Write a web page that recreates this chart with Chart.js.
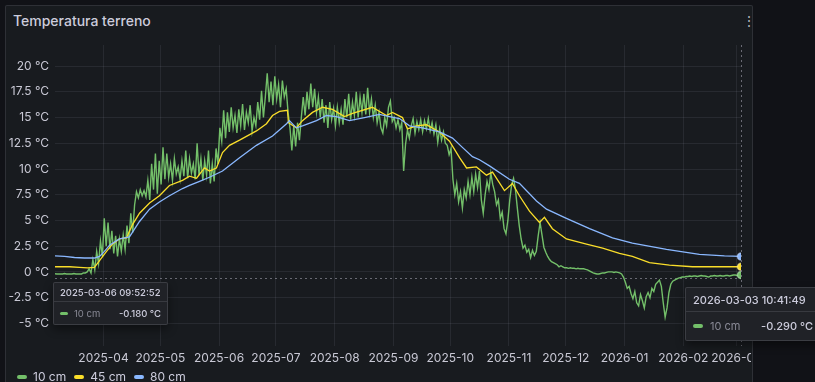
<!DOCTYPE html>
<html>
<head>
<meta charset="utf-8">
<script src="https://cdn.jsdelivr.net/npm/chart.js@4.4.1/dist/chart.umd.min.js"></script>
<style>
  html, body { margin: 0; padding: 0; background: #111217; }
  body { width: 815px; height: 382px; overflow: hidden; position: relative; font-family: Inter, "Noto Sans", sans-serif; color: #ccccdc; }
  #panel { position: absolute; left: 5px; top: 5px; width: 748px; height: 400px; box-sizing: border-box; background: #181b1f; border: 1px solid rgba(204,204,220,0.12); border-radius: 2px; }
  #title { position: absolute; left: 13px; top: 12px; font-size: 14px; font-weight: 500; color: #ccccdc; }
  #menu { position: absolute; left: 742px; top: 12px; font-size: 14px; color: #b0b0bc; }
  #plot { position: absolute; left: 0; top: 0; width: 751px; height: 382px; overflow: hidden; }
  #legend { position: absolute; left: 17px; top: 369px; font-size: 12px; display: flex; gap: 8px; color: #ccccdc; }
  .item { display: flex; align-items: center; }
  .sw { width: 10px; height: 4px; border-radius: 2px; margin-right: 6px; flex: none; }
  .tip { position: absolute; background: #202227; border: 1px solid rgba(204,204,220,0.16); border-radius: 2px; box-shadow: 0 4px 10px rgba(0,0,0,0.45); overflow: hidden; white-space: nowrap; }
  .tip .head { position: absolute; left: 0; right: 0; top: 0; border-bottom: 1px solid rgba(204,204,220,0.14); font-weight: 500; color: #ccccdc; }
  .tip .row { position: absolute; left: 0; right: 0; display: flex; align-items: center; }
  .tip .lab { color: rgba(204,204,220,0.6); }
  .tip .val { position: absolute; font-weight: 500; color: #ccccdc; }
</style>
</head>
<body>
<div id="panel"></div>
<div id="title">Temperatura terreno</div>
<div id="menu">⋮</div>
<div id="plot"><canvas id="chart" width="815" height="382"></canvas></div>

<div id="legend">
  <div class="item"><div class="sw" style="background:#73bf69"></div>10 cm</div>
  <div class="item"><div class="sw" style="background:#fade2a"></div>45 cm</div>
  <div class="item"><div class="sw" style="background:#8ab8ff"></div>80 cm</div>
</div>

<div class="tip" style="left:53px; top:282px; width:113px; height:41px;">
  <div class="head" style="height:18px; font-size:9.5px; line-height:19px; padding-left:6px;">2025-03-06 09:52:52</div>
  <div class="row" style="top:19px; height:22px; font-size:9.5px; padding-left:6px;">
    <div class="sw" style="background:#73bf69; width:8px; height:3px;"></div><span class="lab">10 cm</span>
    <span class="val" style="right:6px;">-0.180 °C</span>
  </div>
</div>

<div class="tip" style="left:685px; top:287px; width:150px; height:52px;">
  <div class="head" style="height:23px; font-size:11px; line-height:25px; padding-left:7px;">2026-03-03 10:41:49</div>
  <div class="row" style="top:24px; height:28px; font-size:11px; padding-left:7px;">
    <div class="sw" style="background:#73bf69; width:10px; height:4px; margin-right:7px;"></div><span class="lab">10 cm</span>
    <span class="val" style="right:23px;">-0.290 °C</span>
  </div>
</div>

<script>
// time range of the panel
var startTime = Date.UTC(2025, 2, 6, 9, 52, 52);
var endTime = Date.UTC(2026, 2, 3, 10, 41, 49);
var dayMs = 86400000;

var monthLabels = ["2025-04", "2025-05", "2025-06", "2025-07", "2025-08", "2025-09",
                   "2025-10", "2025-11", "2025-12", "2026-01", "2026-02", "2026-03"];
var yTicks = [-5, -2.5, 0, 2.5, 5, 7.5, 10, 12.5, 15, 17.5, 20];

// 10 cm - one sample per day from the start of the range
var t10 = [
  -0.18,-0.2,-0.2,-0.2,-0.2,-0.15,-0.2,-0.2,-0.2,-0.2,
  -0.15,-0.2,-0.2,-0.2,-0.2,-0.1,-0.1,0.0,0.3,-0.1,
  1.2,0.2,2.0,0.8,3.0,1.5,5.2,2.5,4.8,2.2,
  4.0,1.8,3.5,1.5,3.2,2.0,3.6,2.2,4.5,2.8,
  5.7,3.8,6.5,7.8,7.2,8.0,7.4,7.9,7.3,8.9,
  7.0,10.5,8.0,11.5,7.6,10.8,8.5,12.1,9.0,11.5,
  9.2,10.5,8.9,11.0,9.5,10.2,9.0,10.8,9.3,11.8,
  9.1,11.0,9.6,10.5,9.0,12.5,9.4,11.0,8.9,10.8,
  9.4,11.8,8.6,10.5,8.8,12.0,10.5,14.0,12.7,15.7,
  13.0,15.5,13.6,16.0,14.0,15.2,13.5,15.8,14.2,16.3,
  13.8,15.5,14.5,16.2,13.7,15.0,14.2,16.5,14.8,17.6,
  15.0,17.0,19.3,16.5,18.5,16.2,19.0,16.8,18.2,16.0,
  18.6,17.0,17.8,15.5,14.0,11.8,14.2,12.2,14.5,12.8,
  15.0,17.0,15.2,17.5,15.8,18.3,16.0,17.8,15.5,17.0,
  15.0,16.8,14.5,16.2,14.0,16.5,14.8,15.9,14.2,16.0,
  14.5,15.8,14.3,16.8,15.0,17.3,14.8,16.5,15.2,17.5,
  15.0,17.0,15.5,17.3,15.3,17.9,15.5,16.8,15.0,16.2,
  14.5,15.5,14.0,13.5,15.0,14.2,16.0,16.6,14.6,15.0,
  14.0,14.8,13.8,14.5,9.8,12.4,13.8,13.0,14.2,14.9,
  13.5,14.6,13.8,14.8,13.6,14.7,13.9,14.9,13.7,14.5,
  13.4,14.3,12.6,13.9,12.8,13.6,12.5,12.3,11.4,12.0,
  9.0,7.5,8.6,6.8,7.8,6.2,8.0,7.2,8.8,7.5,
  9.2,7.8,9.5,8.2,9.8,7.0,5.7,7.5,8.8,8.0,
  9.6,8.5,7.8,6.5,7.0,5.2,5.8,4.2,3.7,5.0,
  7.0,8.5,9.1,8.0,6.2,4.5,3.2,2.3,2.6,1.9,
  2.2,1.4,2.1,1.6,2.0,3.5,4.8,3.6,2.4,1.9,
  1.5,1.2,1.0,0.9,0.8,0.7,0.5,0.6,0.5,0.4,
  0.4,0.35,0.4,0.35,0.35,0.3,0.35,0.3,0.3,0.3,
  0.25,0.2,0.1,0.0,-0.1,-0.15,-0.2,-0.2,-0.15,-0.1,
  -0.1,-0.05,0.0,0.0,0.0,-0.05,0.0,-0.05,-0.1,-0.2,
  -0.5,-1.0,-1.6,-1.4,-2.1,-2.6,-1.9,-3.0,-3.3,-2.2,
  -2.8,-3.5,-2.4,-2.0,-2.5,-1.6,-1.9,-1.2,-1.0,-0.8,
  -1.4,-3.0,-4.4,-3.5,-2.0,-1.2,-0.9,-0.8,-0.7,-0.6,
  -0.55,-0.5,-0.5,-0.45,-0.45,-0.4,-0.45,-0.4,-0.4,-0.45,
  -0.4,-0.35,-0.4,-0.4,-0.45,-0.5,-0.4,-0.4,-0.35,-0.4,
  -0.4,-0.35,-0.4,-0.4,-0.35,-0.35,-0.4,-0.35,-0.3,-0.3,
  -0.35,-0.3,-0.29
];

// 45 cm - days since start / value
var days45 = [0, 7.7, 12.9, 17.2, 20.8, 23.5, 27.2, 30.3, 34.0, 37.7, 40.9, 44.6, 49.9, 55.1, 60.4,
  67.3, 71.0, 74.7, 78.9, 81.5, 85.2, 88.4, 92.1, 97.4, 106.3, 111.6, 114.8, 118.5, 122.7, 123.2,
  127.4, 130.6, 135.9, 141.2, 146.4, 152.8, 157.0, 167.5, 174.9, 178.1, 183.4, 186.0, 190.8, 196.0,
  202.9, 208.2, 213.5, 217.2, 222.4, 227.7, 230.9, 237.2, 241.4, 245.1, 250.4, 255.7, 258.3, 262.5,
  269.9, 280.5, 289.0, 297.9, 304.7, 313.7, 324.3, 336.4, 362.0];
var t45 = [0.5, 0.5, 0.45, 0.4, 0.45, 1.1, 2.0, 2.7, 3.2, 3.3, 4.6, 5.7, 6.7, 7.4, 8.4,
  8.9, 9.3, 9.1, 10.1, 9.8, 10.1, 11.6, 12.3, 12.8, 13.7, 14.4, 15.2, 15.6, 15.7, 14.5,
  14.0, 14.7, 15.5, 16.0, 15.8, 15.1, 15.4, 16.0, 15.2, 15.5, 15.0, 13.9, 14.2, 14.3,
  13.6, 12.7, 11.1, 10.1, 10.2, 9.4, 9.7, 7.9, 8.6, 7.4, 5.9, 4.8, 5.3, 4.2,
  3.2, 2.7, 2.3, 1.8, 1.5, 0.9, 0.65, 0.5, 0.5];

// 80 cm - days since start / value
var days80 = [0, 5.0, 10.3, 15.6, 20.8, 23.5, 26.1, 28.8, 34.0, 39.3, 44.6, 49.9, 55.1, 60.4,
  67.3, 71.0, 76.3, 81.5, 88.4, 97.4, 106.3, 114.8, 122.2, 123.7, 127.4, 130.6, 138.0, 143.3,
  148.5, 155.4, 163.3, 171.2, 176.5, 181.8, 187.1, 193.9, 202.9, 209.8, 215.0, 220.3, 224.0,
  229.3, 239.8, 245.1, 254.1, 259.4, 269.9, 282.1, 294.2, 304.7, 322.7, 340.1, 353.3, 362.0];
var t80 = [1.55, 1.5, 1.4, 1.35, 1.35, 1.5, 2.0, 2.6, 3.2, 3.4, 4.9, 6.1, 6.8, 7.4,
  8.1, 8.4, 8.8, 9.2, 9.8, 11.1, 12.3, 13.2, 14.4, 14.7, 14.0, 14.2, 14.7, 15.2,
  15.1, 14.7, 15.0, 15.3, 15.1, 14.9, 14.2, 14.0, 13.6, 13.0, 12.1, 11.2, 10.9,
  10.3, 9.0, 8.6, 6.9, 6.1, 5.2, 4.2, 3.3, 2.8, 2.2, 1.7, 1.55, 1.5];

var cursorValue = -0.6;

var xMax = (endTime - startTime) / dayMs;
var monthPos = monthLabels.map(function (m) {
  return (Date.parse(m + "-01T00:00:00Z") - startTime) / dayMs;
});

function lastDot(n) {
  return function (ctx) { return ctx.dataIndex === n - 1 ? 3.5 : 0; };
}

var cursorLines = {
  id: "cursorLines",
  beforeDatasetsDraw: function (chart) {
    var ctx = chart.ctx, a = chart.chartArea;
    var cx = chart.scales.x.getPixelForValue(xMax - 0.03);
    var cy = chart.scales.y.getPixelForValue(cursorValue);
    ctx.save();
    ctx.strokeStyle = "rgba(204,204,220,0.45)";
    ctx.lineWidth = 1;
    ctx.setLineDash([2, 3]);
    ctx.beginPath();
    ctx.moveTo(Math.round(cx) + 0.5, a.top);
    ctx.lineTo(Math.round(cx) + 0.5, a.bottom);
    ctx.moveTo(a.left, Math.round(cy) + 0.5);
    ctx.lineTo(a.right, Math.round(cy) + 0.5);
    ctx.stroke();
    ctx.restore();
  }
};

var elem = document.getElementById("chart").getContext("2d");
var tickFont = { family: "Inter", size: 12 };

var newChart = new Chart(elem, {
  type: "line",
  data: {
    datasets: [{
      label: "10 cm",
      data: t10.map(function (v, i) { return { x: i, y: v }; }),
      borderColor: "#73bf69",
      backgroundColor: "#73bf69",
      borderWidth: 1.4,
      pointRadius: lastDot(t10.length),
      pointBorderColor: "rgba(190,235,185,0.55)",
      pointBorderWidth: 1.5,
      order: 3
    }, {
      label: "45 cm",
      data: days45.map(function (d, i) { return { x: d, y: t45[i] }; }),
      borderColor: "#fade2a",
      backgroundColor: "#fade2a",
      borderWidth: 1.3,
      pointRadius: lastDot(t45.length),
      pointBorderColor: "rgba(255,240,160,0.55)",
      pointBorderWidth: 1.5,
      order: 2
    }, {
      label: "80 cm",
      data: days80.map(function (d, i) { return { x: d, y: t80[i] }; }),
      borderColor: "#8ab8ff",
      backgroundColor: "#8ab8ff",
      borderWidth: 1.3,
      pointRadius: lastDot(t80.length),
      pointBorderColor: "rgba(200,220,255,0.55)",
      pointBorderWidth: 1.5,
      order: 1
    }]
  },
  options: {
    responsive: false,
    animation: false,
    layout: { padding: { left: 0, top: 45, right: 74, bottom: 0 } },
    plugins: { legend: { display: false }, tooltip: { enabled: false } },
    scales: {
      x: {
        type: "linear",
        min: 0,
        max: xMax,
        afterFit: function (s) { s.height = 36; },
        afterBuildTicks: function (s) {
          s.ticks = monthPos.map(function (p) { return { value: p }; });
        },
        grid: { color: "rgba(204,204,220,0.09)", drawTicks: false },
        border: { display: false },
        ticks: {
          autoSkip: false,
          maxRotation: 0,
          padding: 5,
          color: "#c8c8d4",
          font: tickFont,
          callback: function (v, i) { return monthLabels[i]; }
        }
      },
      y: {
        min: -7.2,
        max: 22.05,
        afterFit: function (s) { s.width = 55; },
        afterBuildTicks: function (s) {
          s.ticks = yTicks.map(function (v) { return { value: v }; });
        },
        grid: { color: "rgba(204,204,220,0.09)", drawTicks: false },
        border: { display: false },
        ticks: {
          padding: 6,
          color: "#c8c8d4",
          font: tickFont,
          callback: function (v) { return v + " °C"; }
        }
      }
    }
  },
  plugins: [cursorLines]
});
</script>
</body>
</html>
